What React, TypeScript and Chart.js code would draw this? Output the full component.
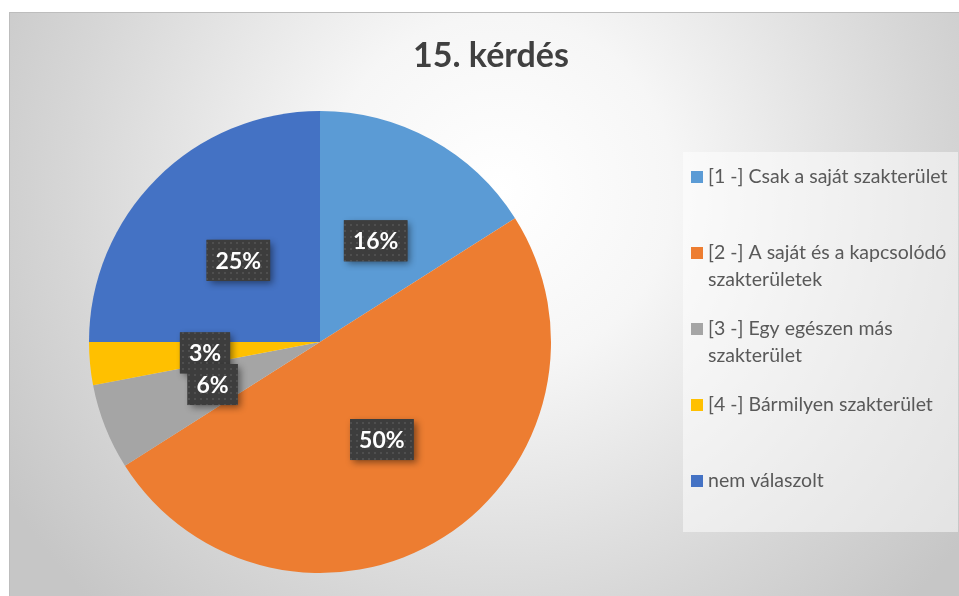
import React, { useEffect, useRef } from 'react';
import { Chart, registerables } from 'chart.js';

Chart.register(...registerables);

const categories: string[][] = [
  ['[1 -] Csak a saját szakterület'],
  ['[2 -] A saját és a kapcsolódó', 'szakterületek'],
  ['[3 -] Egy egészen más', 'szakterület'],
  ['[4 -] Bármilyen szakterület'],
  ['nem válaszolt'],
];
const percentages: number[] = [16, 50, 6, 3, 25];
const sliceColors: string[] = ['#5B9BD5', '#ED7D31', '#A5A5A5', '#FFC000', '#4472C4'];
const titleText = '15. kérdés';

const FONT = 'Lato, "Open Sans", sans-serif';

function makePattern(ctx: CanvasRenderingContext2D) {
  const c = document.createElement('canvas');
  c.width = 6;
  c.height = 6;
  const p = c.getContext('2d')!;
  p.fillStyle = '#3d3d3d';
  p.fillRect(0, 0, 6, 6);
  p.fillStyle = '#4f4f4f';
  p.fillRect(2, 2, 2, 2);
  return ctx.createPattern(c, 'repeat');
}

const backgroundPlugin = {
  id: 'bgFrame',
  beforeDraw(chart: any) {
    const ctx: CanvasRenderingContext2D = chart.ctx;
    const W = chart.width;
    const H = chart.height;
    ctx.save();
    ctx.fillStyle = '#ffffff';
    ctx.fillRect(0, 0, W, H);
    const fx = 9, fy = 12;
    const g = ctx.createRadialGradient(500, 190, 0, 500, 190, 580);
    g.addColorStop(0, '#ffffff');
    g.addColorStop(0.3, '#f6f6f6');
    g.addColorStop(0.75, '#d6d6d6');
    g.addColorStop(1, '#c6c6c6');
    ctx.fillStyle = g;
    ctx.fillRect(fx, fy, W - fx, H - fy);
    ctx.strokeStyle = '#bdbdbd';
    ctx.lineWidth = 1;
    ctx.strokeRect(fx + 0.5, fy + 0.5, W - fx, H - fy);
    // legend box
    ctx.fillStyle = 'rgba(255,255,255,0.5)';
    ctx.fillRect(683, 152, 275, 380);
    // title
    ctx.fillStyle = '#404040';
    ctx.font = `bold 34px ${FONT}`;
    ctx.textAlign = 'center';
    ctx.textBaseline = 'alphabetic';
    ctx.fillText(titleText, 491, 67);
    ctx.restore();
  },
};

const legendPlugin = {
  id: 'sideLegend',
  afterDraw(chart: any) {
    const ctx: CanvasRenderingContext2D = chart.ctx;
    const labels: string[][] = chart.data.labels;
    const colors: string[] = chart.data.datasets[0].backgroundColor;
    const boxTop = 152;
    const boxH = 380;
    const slot = boxH / labels.length;
    ctx.save();
    ctx.font = `19.5px ${FONT}`;
    ctx.textBaseline = 'middle';
    ctx.textAlign = 'left';
    labels.forEach((lines, i) => {
      const y0 = boxTop + slot * i + 25;
      ctx.fillStyle = colors[i];
      ctx.fillRect(691, y0 - 6, 12, 12);
      ctx.fillStyle = '#595959';
      lines.forEach((ln, j) => {
        ctx.fillText(ln, 708, y0 + j * 27);
      });
    });
    ctx.restore();
  },
};

const dataLabelPlugin = {
  id: 'boxLabels',
  afterDatasetsDraw(chart: any) {
    const ctx: CanvasRenderingContext2D = chart.ctx;
    const meta = chart.getDatasetMeta(0);
    const values: number[] = chart.data.datasets[0].data;
    const pattern = makePattern(ctx);
    ctx.save();
    ctx.font = `bold 23px ${FONT}`;
    ctx.textAlign = 'center';
    ctx.textBaseline = 'middle';
    const arcs = meta.data.map((arc: any, i: number) => ({ arc, i })).reverse();
    arcs.forEach(({ arc, i }: any) => {
      const { x, y, startAngle, endAngle, outerRadius } = arc.getProps(
        ['x', 'y', 'startAngle', 'endAngle', 'outerRadius'],
        true
      );
      const mid = (startAngle + endAngle) / 2;
      const cx = x + Math.cos(mid) * outerRadius * 0.5;
      const cy = y + Math.sin(mid) * outerRadius * 0.5;
      const text = `${values[i]}%`;
      const tw = ctx.measureText(text).width;
      const bw = tw + 18;
      const bh = 41;
      const bx = cx - bw / 2;
      const by = cy - bh / 2;
      ctx.save();
      ctx.shadowColor = 'rgba(0,0,0,0.45)';
      ctx.shadowBlur = 7;
      ctx.shadowOffsetX = 3;
      ctx.shadowOffsetY = 3;
      ctx.fillStyle = '#404040';
      ctx.fillRect(bx, by, bw, bh);
      ctx.restore();
      ctx.fillStyle = pattern || '#404040';
      ctx.fillRect(bx, by, bw, bh);
      ctx.fillStyle = '#ffffff';
      ctx.fillText(text, cx, cy + 1);
    });
    ctx.restore();
  },
};

export default function App() {
  const ref = useRef<HTMLCanvasElement | null>(null);
  useEffect(() => {
    document.body.style.margin = '0';
    const canvas = ref.current!;
    const chart = new Chart(canvas, {
      type: 'pie',
      data: {
        labels: categories as any,
        datasets: [
          {
            data: percentages,
            backgroundColor: sliceColors,
            borderWidth: 0,
          },
        ],
      },
      options: {
        animation: false,
        responsive: false,
        events: [],
        layout: { padding: { left: 89, right: 408, top: 111, bottom: 23 } },
        plugins: {
          legend: { display: false },
          title: { display: false },
          tooltip: { enabled: false },
        },
      },
      plugins: [backgroundPlugin, legendPlugin, dataLabelPlugin],
    });
    return () => chart.destroy();
  }, []);
  return (
    <canvas ref={ref} width={959} height={596} style={{ display: 'block', width: 959, height: 596 }} />
  );
}
